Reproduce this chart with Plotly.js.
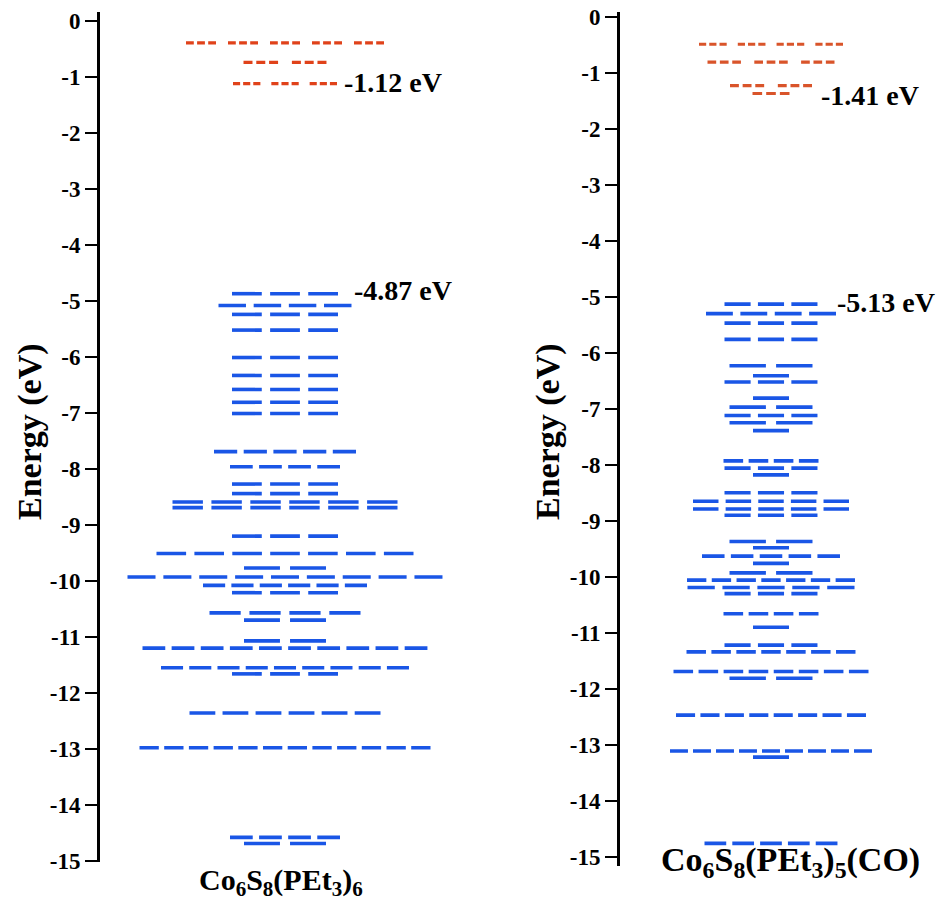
<!DOCTYPE html>
<html><head><meta charset="utf-8">
<script src="https://cdn.plot.ly/plotly-3.0.1.min.js"></script>
<style>html,body{margin:0;padding:0;background:#fff}#chart{width:946px;height:911px}</style>
</head><body><div id="chart"></div>
<script>
// ---- Co6S8(PEt3)6 (left) ----
const leftEmptyEnergy = [-0.39, -0.74, -1.12];
const leftEmptyCount  = [5, 2, 3];
const leftEmptySpread = [198, 83, 104];

const leftFilledEnergy = [-4.87, -5.08, -5.24, -5.52, -6.01, -6.33, -6.58, -6.81, -7.01,
  -7.69, -7.96, -8.27, -8.44, -8.59, -8.69, -9.20, -9.51, -9.77, -9.93, -10.08, -10.21,
  -10.57, -10.70, -11.07, -11.20, -11.55, -11.66, -12.36, -12.98, -14.58, -14.69];
const leftFilledCount = [3, 4, 3, 3, 3, 3, 3, 3, 3,
  5, 4, 3, 3, 6, 6, 3, 7, 2, 9, 6, 3,
  4, 2, 2, 10, 9, 3, 6, 12, 4, 2];
const leftFilledSpread = [106, 133, 106, 106, 106, 106, 106, 106, 106,
  142, 110, 106, 106, 225, 225, 106, 257, 82, 315, 164, 106,
  151, 82, 82, 285, 248, 106, 191, 291, 110, 82];

// ---- Co6S8(PEt3)5(CO) (right) ----
const rightEmptyEnergy = [-0.49, -0.81, -1.23, -1.37];
const rightEmptyCount  = [4, 3, 2, 1];
const rightEmptySpread = [144, 127, 82, 37];

const rightFilledEnergy = [-5.13, -5.30, -5.47, -5.76, -6.23, -6.41, -6.52, -6.81, -6.97, -7.12,
  -7.25, -7.39, -7.93, -8.06, -8.18, -8.50, -8.65, -8.79, -8.90, -9.37, -9.48, -9.63, -9.76,
  -9.93, -10.06, -10.19, -10.30, -10.66, -10.90, -11.22, -11.34, -11.69, -11.81, -12.47,
  -13.11, -13.22, -14.76];
const rightFilledCount = [3, 4, 3, 3, 2, 1, 3, 1, 2, 3,
  2, 1, 4, 3, 1, 3, 5, 5, 3, 2, 1, 5, 1,
  2, 7, 5, 3, 4, 1, 3, 7, 8, 2, 8,
  9, 1, 5];
const rightFilledSpread = [93, 130, 93, 93, 83, 36, 93, 36, 83, 93,
  83, 36, 95, 93, 36, 93, 156, 156, 93, 83, 36, 138, 36,
  83, 168, 167, 93, 95, 36, 93, 169, 195, 83, 190,
  202, 36, 133];

const tickValues = [0, -1, -2, -3, -4, -5, -6, -7, -8, -9, -10, -11, -12, -13, -14, -15];
const tickLabels = ['0', '-1', '-2', '-3', '-4', '-5', '-6', '-7', '-8', '-9', '-10', '-11', '-12', '-13', '-14', '-15'];
const compoundNames = ['Co<sub>6</sub>S<sub>8</sub>(PEt<sub>3</sub>)<sub>6</sub>',
                       'Co<sub>6</sub>S<sub>8</sub>(PEt<sub>3</sub>)<sub>5</sub>(CO)'];
const leftFrontier  = {lumo: -1.12, homo: -4.87};
const rightFrontier = {lumo: -1.41, homo: -5.13};

// ---- drawing ----
const W = 946, H = 911;
const BLUE = '#1a56e6';
const SERIF = 'Liberation Serif';

function filledDash(n, w) {
  const r = 0.28;
  const d = w / (n + (n - 1) * r);
  return d.toFixed(2) + 'px,' + (d * r).toFixed(2) + 'px';
}
function emptyDash(n, w) {
  const R = 0.4;
  const L = w / (n + (n - 1) * R);
  const m = L * 0.26, mg = L * 0.11;
  return [m, mg, m, mg, m, L * R].map(v => v.toFixed(2) + 'px').join(',');
}

const traces = [];
function addLevels(energies, counts, spreads, center, xa, ya, filled, color) {
  energies.forEach((e, i) => {
    const w = spreads[i];
    traces.push({
      type: 'scatter', mode: 'lines',
      x: [center - w / 2, center + w / 2], y: [e, e],
      xaxis: xa, yaxis: ya, showlegend: false, hoverinfo: 'y',
      line: {color: color, width: filled ? 3.6 : 3.2,
             dash: filled ? filledDash(counts[i], w) : emptyDash(counts[i], w)}
    });
  });
}
const leftCenter = 285, rightCenter = 771;
addLevels(leftEmptyEnergy, leftEmptyCount, leftEmptySpread, leftCenter, 'x', 'y', false, '#e0421a');
addLevels(leftFilledEnergy, leftFilledCount, leftFilledSpread, leftCenter, 'x', 'y', true, BLUE);
addLevels(rightEmptyEnergy, rightEmptyCount, rightEmptySpread, rightCenter, 'x2', 'y2', false, '#d9542a');
addLevels(rightFilledEnergy, rightFilledCount, rightFilledSpread, rightCenter, 'x2', 'y2', true, BLUE);

function yAxis(anchor, domain, range) {
  return {
    anchor: anchor, domain: domain, range: range,
    showline: true, linecolor: '#000', linewidth: 3,
    ticks: 'outside', ticklen: 12, tickwidth: 1.5, tickcolor: '#000',
    tickvals: tickValues, ticktext: tickLabels,
    tickfont: {family: SERIF, size: 23, color: '#000', weight: 'bold'},
    showgrid: false, zeroline: false, fixedrange: true
  };
}
const pxY = p => 1 - p / H;

const labelFont = {family: SERIF, size: 28, color: '#000', weight: 'bold'};
const titleFont = {family: SERIF, size: 34, color: '#000', weight: 'bold'};
const annotations = [
  {xref: 'x', yref: 'y', x: 342, y: leftFrontier.lumo + 0.02, text: leftFrontier.lumo.toFixed(2) + ' eV',
   showarrow: false, xanchor: 'left', yanchor: 'middle', font: labelFont},
  {xref: 'x', yref: 'y', x: 352, y: leftFrontier.homo + 0.05, text: leftFrontier.homo.toFixed(2) + ' eV',
   showarrow: false, xanchor: 'left', yanchor: 'middle', font: labelFont},
  {xref: 'x2', yref: 'y2', x: 819, y: rightFrontier.lumo, text: rightFrontier.lumo.toFixed(2) + ' eV',
   showarrow: false, xanchor: 'left', yanchor: 'middle', font: labelFont},
  {xref: 'x2', yref: 'y2', x: 835, y: rightFrontier.homo + 0.02, text: rightFrontier.homo.toFixed(2) + ' eV',
   showarrow: false, xanchor: 'left', yanchor: 'middle', font: labelFont},
  {xref: 'paper', yref: 'paper', x: 30 / W, y: pxY(432), text: 'Energy (eV)', textangle: -90,
   showarrow: false, xanchor: 'center', yanchor: 'middle', font: titleFont},
  {xref: 'paper', yref: 'paper', x: 548 / W, y: pxY(432), text: 'Energy (eV)', textangle: -90,
   showarrow: false, xanchor: 'center', yanchor: 'middle', font: titleFont},
  {xref: 'paper', yref: 'paper', x: 281 / W, y: pxY(882), text: compoundNames[0],
   showarrow: false, xanchor: 'center', yanchor: 'middle', font: {family: SERIF, size: 30, color: '#000', weight: 'bold'}},
  {xref: 'paper', yref: 'paper', x: 790 / W, y: pxY(862), text: compoundNames[1],
   showarrow: false, xanchor: 'center', yanchor: 'middle', font: {family: SERIF, size: 34, color: '#000', weight: 'bold'}}
];

const layout = {
  width: W, height: H,
  margin: {l: 0, r: 0, t: 0, b: 0, pad: 0},
  paper_bgcolor: '#fff', plot_bgcolor: 'rgba(0,0,0,0)',
  showlegend: false,
  font: {family: SERIF},
  xaxis:  {domain: [100 / W, 520 / W], range: [100, 520], visible: false, fixedrange: true},
  xaxis2: {domain: [620 / W, 1], range: [620, 946], visible: false, fixedrange: true, anchor: 'y2'},
  // left: 0 eV at y=21px, 56 px/eV ; right: 0 eV at y=16.8px, 56 px/eV
  yaxis:  yAxis('x',  [1 - 862 / H, 1 - 12 / H], [-15.02, 0.161]),
  yaxis2: yAxis('x2', [1 - 865.5 / H, 1 - 12 / H], [-15.155, 0.0857]),
  annotations: annotations
};

Plotly.newPlot('chart', traces, layout, {displayModeBar: false, staticPlot: true});
</script>
</body></html>
